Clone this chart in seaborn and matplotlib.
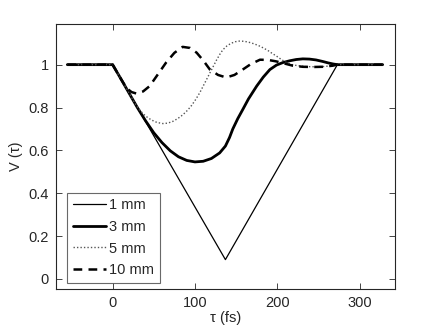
import numpy as np
import pandas as pd
import matplotlib
matplotlib.use("Agg")
import matplotlib.pyplot as plt
import seaborn as sns

# ---- data ----
tau_1mm = [-55, 0, 137, 273, 328]
v_1mm = [1, 1, 0.09, 1, 1]

tau_3mm = [-55, 0, 10, 20, 30, 40, 50, 60, 70, 80, 90, 100, 110, 120, 130, 137,
           142, 146, 152, 158, 165, 175, 183, 191, 199, 207, 215, 223, 231, 239,
           247, 255, 262, 268, 273, 328]
v_3mm = [1, 1, 0.934, 0.867, 0.80, 0.738, 0.682, 0.636, 0.598, 0.570, 0.553, 0.546,
         0.549, 0.562, 0.588, 0.62, 0.66, 0.70, 0.748, 0.79, 0.84, 0.90, 0.942,
         0.977, 0.998, 1.01, 1.018, 1.024, 1.027, 1.026, 1.022, 1.015, 1.008, 1.003,
         1.0, 1]

tau_5mm = [-55, 0, 10, 20, 27, 33, 40, 47, 54, 61, 67, 73, 79, 85, 91, 96, 101,
           106, 112, 118, 122, 126, 130, 134, 139, 144, 149, 154, 160, 166, 172,
           179, 184, 189, 194, 199, 205, 211, 218, 225, 235, 245, 255, 265, 273, 328]
v_5mm = [1, 1, 0.934, 0.868, 0.82, 0.787, 0.76, 0.742, 0.73, 0.725, 0.727, 0.735,
         0.748, 0.765, 0.787, 0.81, 0.838, 0.87, 0.915, 0.96, 0.99, 1.02, 1.047,
         1.07, 1.088, 1.10, 1.107, 1.11, 1.109, 1.104, 1.097, 1.086, 1.076, 1.065,
         1.052, 1.04, 1.024, 1.01, 1.0, 0.995, 0.991, 0.99, 0.991, 0.994, 1.0, 1]

tau_10mm = [-55, 0, 10, 17, 23, 29, 37, 45, 55, 65, 75, 85, 94, 102, 110, 118,
            128, 138, 148, 158, 168, 179, 189, 199, 209, 219, 231, 243, 255, 267,
            273, 328]
v_10mm = [1, 1, 0.934, 0.89, 0.872, 0.865, 0.875, 0.90, 0.955, 1.01, 1.055, 1.083,
          1.078, 1.056, 1.02, 0.978, 0.952, 0.94, 0.952, 0.977, 1.003, 1.023, 1.022,
          1.015, 1.005, 0.995, 0.99, 0.989, 0.99, 0.995, 1.0, 1]

labels = ["1 mm", "3 mm", "5 mm", "10 mm"]
xticks = [0, 100, 200, 300]
yticks = [0, 0.2, 0.4, 0.6, 0.8, 1]
yticklabels = ["0", "0.2", "0.4", "0.6", "0.8", "1"]

sns.set_style("ticks")
plt.rcParams["font.family"] = ["Liberation Sans", "DejaVu Sans"]
plt.rcParams["xtick.direction"] = "in"
plt.rcParams["ytick.direction"] = "in"

FS = 10.5

fig = plt.figure(figsize=(4.36, 3.28), dpi=100)
ax = fig.add_axes([0.128, 0.119, 0.778, 0.808])

series = [
    (tau_1mm, v_1mm, dict(color="black", linewidth=0.9, linestyle="-")),
    (tau_3mm, v_3mm, dict(color="black", linewidth=2.0, linestyle="-")),
    (tau_5mm, v_5mm, dict(color="#555555", linewidth=1.0, linestyle=(0, (1, 1.5)))),
    (tau_10mm, v_10mm, dict(color="black", linewidth=1.8, linestyle=(0, (3.5, 2.5)))),
]
for (t, v, style), lab in zip(series, labels):
    df = pd.DataFrame({"tau": t, "V": v})
    sns.lineplot(data=df, x="tau", y="V", ax=ax, sort=False, estimator=None,
                 label=lab, **style)

ax.set_xlim(-69, 343)
ax.set_ylim(-0.047, 1.19)
ax.set_xticks(xticks)
ax.set_yticks(yticks)
ax.set_yticklabels(yticklabels)
ax.tick_params(top=True, right=True, labelsize=FS, length=4, width=0.6, pad=5)
for s in ax.spines.values():
    s.set_linewidth(0.8)
ax.set_xlabel("τ (fs)", fontsize=FS, labelpad=1)
ax.set_ylabel("V (τ)", fontsize=FS, labelpad=4)

leg = ax.legend(loc="lower left", bbox_to_anchor=(11 / 339, 6 / 265), fontsize=FS,
                frameon=True, fancybox=False, handlelength=2.3, handletextpad=0.2,
                borderpad=0.4, labelspacing=0.52, borderaxespad=0)
leg.get_frame().set_edgecolor("#444444")
leg.get_frame().set_linewidth(0.8)

fig.savefig("out.png", dpi=100)
